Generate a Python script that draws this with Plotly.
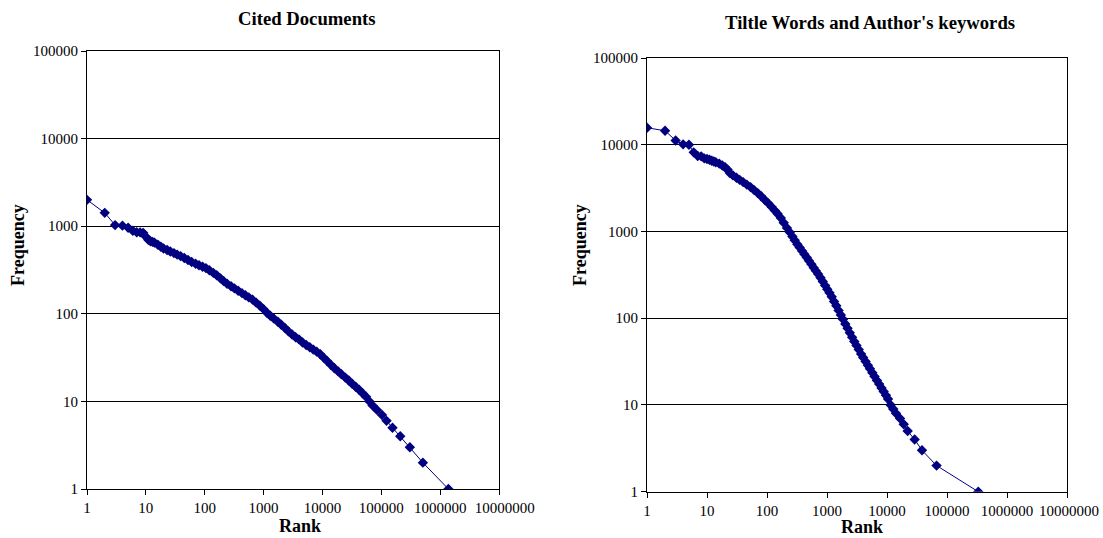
import plotly.graph_objects as go

# ---------------- data ----------------
cited_rank = [1, 2, 3, 4, 5, 6, 7, 8, 9, 10, 11, 12, 13, 14, 16, 18, 20, 23, 26, 30, 34, 39,
              45, 52, 60, 70, 80, 92, 105, 120, 140, 160, 185, 210, 240, 280, 320, 370, 430,
              490, 560, 650, 750, 860, 1000, 1150, 1300, 1500, 1750, 2000, 2300, 2650, 3050,
              3500, 4000, 4600, 5300, 6100, 7000, 8000, 9200, 10500, 12000, 14000, 16000,
              18500, 21000, 24500, 28000, 32000, 37000, 42000, 48000, 55000, 63000, 71000,
              84500, 103000, 123000, 155000, 210000, 306000, 509000, 1380000]
cited_freq = [2000, 1420, 1030, 1015, 960, 889, 852, 850, 840, 760, 700, 672, 662, 650, 613,
              582, 557, 534, 514, 493, 474, 455, 434, 411, 391, 372, 358, 345, 332, 314, 293,
              275, 254, 236, 220, 206, 195, 183, 172, 163, 154, 145, 134, 124, 113, 102, 95,
              88, 81, 75, 69, 63, 58, 54, 51, 47, 44, 41.5, 39, 37, 34.6, 31.6, 28.9, 26, 23.9,
              22, 20.4, 18.7, 17.3, 15.9, 14.6, 13.6, 12.4, 11.3, 10, 9, 8, 7, 6, 5, 4, 3, 2, 1]

words_rank = [1, 2, 3, 4, 5, 6, 7, 8, 9, 10, 11, 12, 13, 14, 16, 18, 20, 22, 24, 27, 31, 35,
              40, 46, 53, 61, 70, 80, 92, 105, 120, 135, 150, 170, 190, 215, 240, 265, 290,
              320, 350, 385, 420, 460, 500, 550, 600, 650, 710, 780, 850, 930, 1010, 1100,
              1200, 1310, 1430, 1560, 1700, 1850, 2020, 2200, 2400, 2620, 2850, 3100, 3380,
              3700, 4000, 4400, 4800, 5200, 5700, 6200, 6800, 7400, 8100, 8800, 9600, 10400,
              11500, 12700, 14100, 16500, 19000, 22100, 28900, 38300, 67000, 332000]
words_freq = [15700, 14500, 11200, 10100, 10000, 8170, 7410, 7350, 6970, 6840, 6710, 6550,
              6400, 6280, 6050, 5770, 5500, 5170, 4710, 4440, 4170, 3940, 3710, 3470, 3250,
              3000, 2770, 2550, 2310, 2110, 1910, 1740, 1600, 1430, 1260, 1100, 977, 875, 793,
              713, 653, 596, 547, 501, 460, 419, 383, 353, 324, 293, 265, 239, 216, 196, 177,
              156, 139, 123, 109, 97, 86, 76.4, 67.8, 60.2, 54, 48.6, 43.5, 38.8, 35.3, 31.7,
              28.6, 26.1, 23.5, 21.3, 19.2, 17.4, 15.7, 14.3, 12.9, 11.7, 10, 9, 8, 7, 6, 5,
              4, 3, 2, 1]

x_tick_vals = [1, 10, 100, 1000, 10000, 100000, 1000000, 10000000]
x_tick_text = ["1", "10", "100", "1000", "10000", "100000", "1000000", "10000000"]
y_tick_vals = [1, 10, 100, 1000, 10000, 100000]
y_tick_text = ["1", "10", "100", "1000", "10000", "100000"]

titles = ["Cited Documents", "Tiltle Words and Author's keywords"]

# ---------------- figure ----------------
W, H = 1103, 538
FONT = "Liberation Serif, Times New Roman, serif"
NAVY = "#000080"

fig = go.Figure()
fig.add_trace(go.Scatter(x=cited_rank, y=cited_freq, mode="lines+markers",
                         line=dict(color=NAVY, width=1),
                         marker=dict(symbol="diamond", size=8, color=NAVY),
                         xaxis="x", yaxis="y", showlegend=False))
fig.add_trace(go.Scatter(x=words_rank, y=words_freq, mode="lines+markers",
                         line=dict(color=NAVY, width=1),
                         marker=dict(symbol="diamond", size=8, color=NAVY),
                         xaxis="x2", yaxis="y2", showlegend=False))

# Excel nudges the crowded last label slightly to the right
left_x_text = x_tick_text[:-1] + ["\u00a0\u00a0\u00a0" + x_tick_text[-1]]
right_x_text = x_tick_text[:-1] + ["\u00a0" + x_tick_text[-1]]


def xaxis(domain, anchor, ticktext):
    return dict(type="log", range=[0, 7], domain=domain, anchor=anchor,
                automargin=False, tickangle=0,
                tickvals=x_tick_vals, ticktext=ticktext, ticks="outside",
                ticklen=5, tickcolor="black", showline=True, linecolor="black",
                linewidth=1, mirror=True, showgrid=False, zeroline=False,
                tickfont=dict(family=FONT, size=15, color="black"))


def yaxis(domain, anchor):
    return dict(type="log", range=[0, 5], domain=domain, anchor=anchor,
                automargin=False,
                tickvals=y_tick_vals, ticktext=y_tick_text, ticks="outside",
                ticklen=5, tickcolor="black", showline=True, linecolor="black",
                linewidth=1, mirror=True, showgrid=True, gridcolor="black",
                gridwidth=1, zeroline=False,
                tickfont=dict(family=FONT, size=15, color="black"))


fig.update_layout(
    width=W, height=H,
    margin=dict(l=0, r=0, t=0, b=0),
    paper_bgcolor="white", plot_bgcolor="white",
    xaxis=xaxis([87 / W, 499 / W], "y", left_x_text),
    yaxis=yaxis([1 - 489 / H, 1 - 51 / H], "x"),
    xaxis2=xaxis([647 / W, 1067 / W], "y2", right_x_text),
    yaxis2=yaxis([1 - 491.7 / H, 1 - 58 / H], "x2"),
)

title_font = dict(family=FONT, size=18.7, color="black")
axis_font = dict(family=FONT, size=18, color="black")
ann = [
    dict(text="<b>%s</b>" % titles[0], x=307 / W, y=1 - 18 / H, font=title_font),
    dict(text="<b>%s</b>" % titles[1], x=870 / W, y=1 - 23 / H, font=title_font),
    dict(text="<b>Rank</b>", x=300 / W, y=1 - 526 / H, font=axis_font),
    dict(text="<b>Rank</b>", x=862 / W, y=1 - 527 / H, font=axis_font),
    dict(text="<b>Frequency</b>", x=18 / W, y=1 - 245 / H, textangle=-90, font=axis_font),
    dict(text="<b>Frequency</b>", x=580 / W, y=1 - 245 / H, textangle=-90, font=axis_font),
]
for a in ann:
    fig.add_annotation(xref="paper", yref="paper", showarrow=False,
                       xanchor="center", yanchor="middle", **a)

fig.write_html("out.html")
